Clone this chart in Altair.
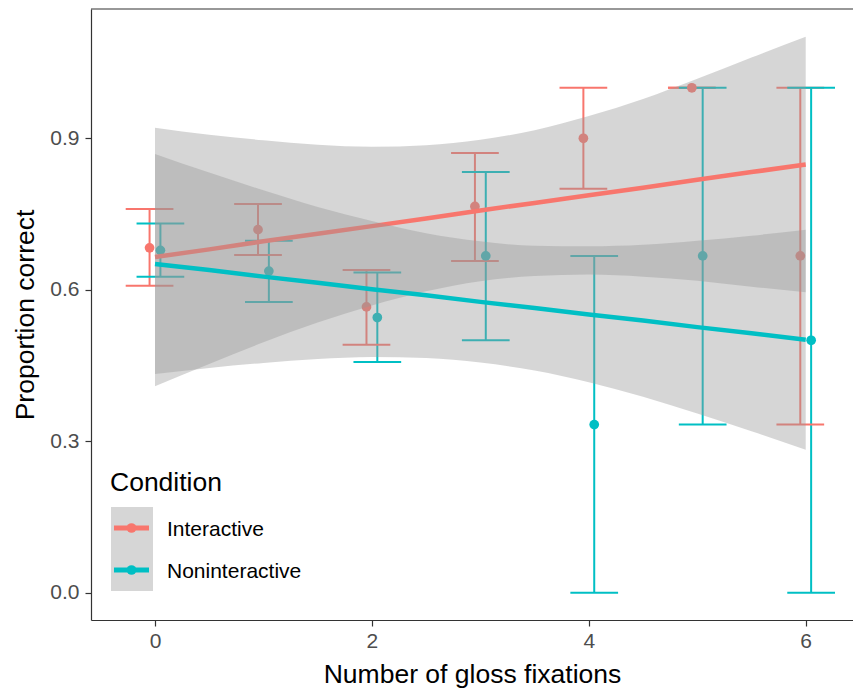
import altair as alt
import pandas as pd

conditions = ["Interactive", "Noninteractive"]
colors = ["#F8766D", "#00BFC4"]

fixations = [0, 1, 2, 3, 4, 5, 6]
int_mean = [0.683, 0.719, 0.566, 0.765, 0.900, 1.000, 0.667]
int_lo = [0.608, 0.669, 0.491, 0.657, 0.800, 1.000, 0.333]
int_hi = [0.760, 0.770, 0.639, 0.871, 1.000, 1.000, 1.000]
non_mean = [0.678, 0.637, 0.545, 0.667, 0.333, 0.667, 0.500]
non_lo = [0.626, 0.576, 0.457, 0.500, 0.000, 0.333, 0.000]
non_hi = [0.731, 0.697, 0.634, 0.833, 0.667, 1.000, 1.000]

band_x = [0, 0.5, 1, 1.5, 2, 2.5, 3, 3.5, 4, 4.5, 5, 5.5, 6]
int_fit = [0.665, 0.680, 0.696, 0.711, 0.726, 0.741, 0.757, 0.772, 0.787, 0.802, 0.818, 0.833, 0.848]
int_upper = [0.921, 0.907, 0.896, 0.887, 0.883, 0.886, 0.897, 0.916, 0.944, 0.978, 1.018, 1.060, 1.101]
int_lower = [0.409, 0.453, 0.496, 0.535, 0.569, 0.597, 0.617, 0.627, 0.630, 0.626, 0.618, 0.606, 0.595]
non_fit = [0.651, 0.639, 0.626, 0.614, 0.601, 0.589, 0.576, 0.564, 0.551, 0.539, 0.526, 0.514, 0.501]
non_upper = [0.869, 0.832, 0.797, 0.764, 0.736, 0.712, 0.696, 0.687, 0.686, 0.689, 0.697, 0.707, 0.719]
non_lower = [0.433, 0.445, 0.455, 0.463, 0.467, 0.465, 0.456, 0.440, 0.417, 0.388, 0.355, 0.320, 0.283]

x_ticks = [0, 2, 4, 6]
y_ticks = [0.0, 0.3, 0.6, 0.9]

FONT = "Liberation Sans"
DODGE = {"Interactive": -0.05, "Noninteractive": 0.05}
CAP = 0.22
W, H = 762, 611

rows = []
for cond, ms, los, his in [("Interactive", int_mean, int_lo, int_hi),
                           ("Noninteractive", non_mean, non_lo, non_hi)]:
    for x, m, lo, hi in zip(fixations, ms, los, his):
        xd = x + DODGE[cond]
        rows.append(dict(Condition=cond, xd=xd, xa=xd - CAP, xb=xd + CAP,
                         mean=m, lo=lo, hi=hi))
pts = pd.DataFrame(rows)

brows = []
for cond, f, u, l in [("Interactive", int_fit, int_upper, int_lower),
                      ("Noninteractive", non_fit, non_upper, non_lower)]:
    for x, a, b, c in zip(band_x, f, u, l):
        brows.append(dict(Condition=cond, bx=x, fit=a, upper=b, lower=c))
bands = pd.DataFrame(brows)

xs = alt.Scale(domain=[-0.59, 6.436], nice=False, zero=False)
ys = alt.Scale(domain=[-0.054, 1.156], nice=False, zero=False)
cs = alt.Scale(domain=conditions, range=colors)

xaxis = alt.Axis(values=x_ticks, grid=False, domainColor="#333333", domainWidth=1.2,
                 tickColor="#333333", tickWidth=1.2, tickSize=6,
                 labelFont=FONT, labelFontSize=21, labelColor="#4D4D4D", labelPadding=4,
                 titleFont=FONT, titleFontSize=26.5, titleColor="black",
                 titleFontWeight="normal", titleBaseline="alphabetic", titleY=62)
yaxis = alt.Axis(values=y_ticks, format=".1f", grid=False, domainColor="#333333",
                 domainWidth=1.2, tickColor="#333333", tickWidth=1.2, tickSize=6,
                 labelFont=FONT, labelFontSize=21, labelColor="#4D4D4D", labelPadding=6,
                 titleFont=FONT, titleFontSize=26.5, titleColor="black",
                 titleFontWeight="normal", titleBaseline="alphabetic", titleX=-58)

XT = "Number of gloss fixations"
YT = "Proportion correct"

color = alt.Color("Condition:N", scale=cs, legend=None)

one = pd.DataFrame({"k": [0]})

keybg = alt.Chart(one).mark_rect(color="#D6D6D6").encode(
    x=alt.value(20), x2=alt.value(62), y=alt.value(498), y2=alt.value(582))

topline = alt.Chart(one).mark_rule(color="#333333", strokeWidth=1.2).encode(
    x=alt.value(0), x2=alt.value(W), y=alt.value(0))

base = alt.Chart(pts)
vbars = base.mark_rule(strokeWidth=2).encode(
    x=alt.X("xd:Q", scale=xs, axis=xaxis, title=XT),
    y=alt.Y("lo:Q", scale=ys, axis=yaxis, title=YT),
    y2="hi:Q", color=color)
caps_lo = base.mark_rule(strokeWidth=2).encode(
    x=alt.X("xa:Q", scale=xs, axis=xaxis, title=XT), x2="xb:Q",
    y=alt.Y("lo:Q", scale=ys, axis=yaxis, title=YT), color=color)
caps_hi = base.mark_rule(strokeWidth=2).encode(
    x=alt.X("xa:Q", scale=xs, axis=xaxis, title=XT), x2="xb:Q",
    y=alt.Y("hi:Q", scale=ys, axis=yaxis, title=YT), color=color)
points = base.mark_point(filled=True, size=95, opacity=1).encode(
    x=alt.X("xd:Q", scale=xs, axis=xaxis, title=XT),
    y=alt.Y("mean:Q", scale=ys, axis=yaxis, title=YT), color=color)

def smooth(cond):
    b = alt.Chart(bands).transform_filter(alt.datum.Condition == cond)
    area = b.mark_area(color="#999999", opacity=0.4, interpolate="monotone").encode(
        x=alt.X("bx:Q", scale=xs, axis=xaxis, title=XT),
        y=alt.Y("lower:Q", scale=ys, axis=yaxis, title=YT), y2="upper:Q")
    line = b.mark_line(strokeWidth=4.5).encode(
        x=alt.X("bx:Q", scale=xs, axis=xaxis, title=XT),
        y=alt.Y("fit:Q", scale=ys, axis=yaxis, title=YT), color=color)
    return [area, line]

# manual legend
legdf = pd.DataFrame({"Condition": conditions})
leg_layers = [
    alt.Chart(one).mark_text(text="Condition", font=FONT, fontSize=26.5, color="black",
                             align="left", baseline="alphabetic").encode(
        x=alt.value(19), y=alt.value(482))
]
for i, cond in enumerate(conditions):
    ky = 519 + 42 * i
    ld = alt.Chart(legdf).transform_filter(alt.datum.Condition == cond)
    leg_layers.append(ld.mark_rule(strokeWidth=5).encode(
        x=alt.value(23), x2=alt.value(58), y=alt.value(ky), color=color))
    leg_layers.append(ld.mark_point(filled=True, size=95, opacity=1).encode(
        x=alt.value(40.5), y=alt.value(ky), color=color))
    leg_layers.append(ld.mark_text(font=FONT, fontSize=21, color="black", align="left",
                                   baseline="alphabetic").encode(
        x=alt.value(76), y=alt.value(ky + 8), text="Condition:N"))

layers = ([keybg, vbars, caps_lo, caps_hi, points] + smooth("Interactive")
          + smooth("Noninteractive") + [topline] + leg_layers)

chart = alt.layer(*layers).properties(
    width=W, height=H,
    autosize=alt.AutoSizeParams(type="none"),
    padding={"left": 83, "top": 1, "right": 0, "bottom": 68},
    background="white",
).configure_view(stroke=None)

chart.save("out.html", embed_options={"renderer": "svg", "actions": False})
